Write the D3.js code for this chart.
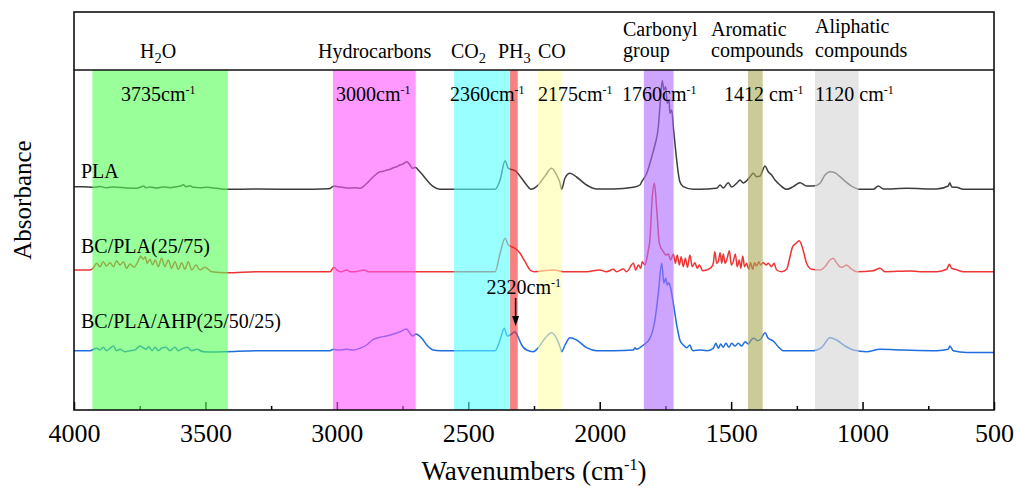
<!DOCTYPE html>
<html>
<head>
<meta charset="utf-8">
<script src="https://cdn.jsdelivr.net/npm/d3@7"></script>
<style>
  body { margin: 0; background: #fff; }
  svg { display: block; }
  text { font-family: "Liberation Serif", "Times New Roman", serif; fill: #000; }
</style>
</head>
<body>
<svg id="chart" width="1017" height="497"></svg>
<script>
// ---- data ---------------------------------------------------------------
const seriesNames = ["PLA", "BC/PLA(25/75)", "BC/PLA/AHP(25/50/25)"];
const seriesOffsets = [2.207, 1.383, 0.593];   // vertical stacking of the spectra

// [wavenumber (cm-1), absorbance above the spectrum's own baseline]
const plaSpectrum = [
  [4000,0.026],[3965,0.026],[3927,0.02],[3901,0.028],[3876,0.016],[3850,0.023],[3800,0.013],[3762,0.01],
  [3743,0.026],[3736,0.033],[3726,0.016],[3711,0.023],[3686,0.013],[3660,0.023],[3635,0.016],[3610,0.026],
  [3594,0.033],[3584,0.046],[3574,0.026],[3559,0.036],[3546,0.02],[3521,0.016],[3495,0.02],[3457,0.01],
  [3419,0],[3300,0.002],[3150,0],[3030,0.005],[3010,0.033],[2995,0.025],[2980,0.02],[2962,0.013],[2930,0.015],
  [2912,0.01],[2886,0.06],[2861,0.126],[2836,0.176],[2823,0.18],[2810,0.193],[2797,0.2],[2785,0.216],
  [2772,0.225],[2760,0.243],[2747,0.255],[2734,0.276],[2722,0.243],[2712,0.21],[2703,0.22],[2684,0.176],
  [2658,0.093],[2633,0.026],[2608,0],[2398,0],[2379,0.093],[2360,0.286],[2348,0.21],[2339,0.2],[2322,0.186],
  [2297,0.11],[2278,0.043],[2262,0],[2234,0.043],[2208,0.133],[2183,0.21],[2164,0.143],[2151,0.063],[2145,0],
  [2132,0.113],[2113,0.16],[2088,0.123],[2050,0.043],[2012,0.003],[1948,0.003],[1872,0.02],[1847,0.043],
  [1840,0.076],[1821,0.16],[1802,0.326],[1790,0.443],[1777,0.626],[1771,0.826],[1762,1.086],[1756,0.993],
  [1749,1.026],[1743,0.86],[1736,0.893],[1733,0.76],[1726,0.793],[1720,0.626],[1710,0.36],[1701,0.16],
  [1695,0.076],[1682,0.026],[1644,0],[1593,0.003],[1555,0.01],[1542,0.043],[1530,0.013],[1511,0.066],
  [1498,0.023],[1479,0.06],[1466,0.093],[1454,0.063],[1441,0.086],[1428,0.126],[1416,0.16],[1403,0.126],
  [1390,0.133],[1371,0.233],[1359,0.176],[1346,0.143],[1333,0.093],[1314,0.043],[1289,0],[1264,0.026],
  [1238,0.066],[1213,0.033],[1187,0.033],[1162,0.06],[1143,0.143],[1124,0.176],[1105,0.166],[1086,0.126],
  [1048,0.043],[1010,0],[959,0],[940,0.033],[921,0.003],[832,0.01],[718,0.003],[674,0.033],[668,0.066],
  [661,0.023],[642,0.02],[617,0],[500,0]
];

const bcPlaSpectrum = [
  [4000,0.017],[3939,0.017],[3927,0.034],[3914,0.084],[3901,0.05],[3889,0.1],[3876,0.057],[3863,0.09],
  [3850,0.05],[3838,0.11],[3825,0.067],[3812,0.1],[3800,0.034],[3787,0.077],[3772,0.044],[3755,0.11],
  [3746,0.157],[3736,0.124],[3729,0.15],[3721,0.084],[3711,0.124],[3701,0.067],[3691,0.117],[3679,0.05],
  [3667,0.134],[3654,0.05],[3641,0.117],[3629,0.034],[3616,0.1],[3603,0.024],[3590,0.09],[3578,0.024],
  [3565,0.1],[3552,0.017],[3536,0.067],[3521,0.017],[3502,0.044],[3476,0],[3419,-0.01],[3300,0],[3026,0],
  [3011,0.044],[2998,0.014],[2982,0],[2963,0.017],[2948,0],[2931,0],[2897,0.017],[2880,0],[2398,0],
  [2379,0.184],[2360,0.334],[2348,0.267],[2335,0.25],[2322,0.234],[2303,0.184],[2284,0.1],[2262,0.01],
  [2250,0],[2177,0.017],[2138,0],[2050,0],[2000,0.017],[1974,0],[1948,0.024],[1936,0],[1910,0.027],[1898,0],
  [1872,0.084],[1863,0.017],[1853,0.067],[1844,0.034],[1838,0.1],[1828,0.067],[1815,0.217],[1809,0.317],
  [1800,0.75],[1792,0.884],[1783,0.617],[1773,0.284],[1758,0.2],[1748,0.167],[1739,0.177],[1730,0.117],
  [1720,0.177],[1712,0.084],[1705,0.167],[1697,0.067],[1690,0.15],[1682,0.05],[1674,0.134],[1666,0.044],
  [1657,0.167],[1648,0.05],[1638,0.09],[1629,0.034],[1621,0.067],[1608,0.01],[1593,0.017],[1574,0.05],
  [1568,0.084],[1562,0.2],[1555,0.084],[1549,0.1],[1542,0.19],[1536,0.084],[1530,0.177],[1523,0.084],
  [1515,0.134],[1507,0.21],[1499,0.067],[1492,0.1],[1484,0.177],[1477,0.05],[1469,0.117],[1463,0.034],
  [1456,0.157],[1449,0.05],[1441,0.084],[1433,0.024],[1426,0.09],[1418,0.024],[1411,0.09],[1403,0.057],
  [1395,0.1],[1388,0.067],[1378,0.09],[1367,0.067],[1359,0.084],[1346,0.05],[1337,0.084],[1327,0.017],
  [1308,0],[1289,0.024],[1276,0.15],[1266,0.25],[1253,0.284],[1241,0.31],[1232,0.267],[1223,0.184],
  [1213,0.084],[1194,0.024],[1162,0.017],[1143,0.05],[1124,0.117],[1111,0.134],[1099,0.09],[1083,0.044],
  [1073,0.05],[1061,0.067],[1046,0.034],[1023,0],[959,0.01],[934,0.034],[915,0],[820,0.007],[782,0],
  [718,0],[680,0.024],[670,0.074],[661,0.034],[648,0.024],[617,0],[500,0]
];

const bcPlaAhpSpectrum = [
  [4000,0],[3939,0],[3914,0.024],[3901,0.007],[3889,0.034],[3876,0],[3863,0.024],[3850,0.047],[3838,0],
  [3825,0.014],[3806,-0.01],[3787,0],[3768,0.007],[3749,0.047],[3739,0.034],[3726,0.014],[3716,0.04],
  [3703,0],[3692,0.034],[3679,0],[3667,0.024],[3650,0.034],[3635,0],[3616,0.034],[3603,0],[3584,0.024],
  [3569,0.034],[3552,0],[3533,0.014],[3508,-0.01],[3470,-0.014],[3419,-0.01],[3292,0],[3026,0],[3013,0.014],
  [2995,0.007],[2963,0.014],[2937,0.007],[2912,0.024],[2887,0.057],[2861,0.114],[2836,0.134],[2811,0.147],
  [2785,0.167],[2760,0.19],[2735,0.217],[2722,0.174],[2712,0.147],[2699,0.167],[2677,0.124],[2658,0.057],
  [2633,0.007],[2608,0],[2398,0],[2379,0.107],[2363,0.224],[2352,0.147],[2341,0.157],[2322,0.19],
  [2314,0.157],[2297,0.057],[2278,0.007],[2253,-0.01],[2234,0.03],[2208,0.124],[2183,0.18],[2164,0.124],
  [2151,0.04],[2145,-0.01],[2132,0.057],[2113,0.13],[2088,0.107],[2050,0.03],[2012,0],[1948,0],[1872,0.007],
  [1866,0.03],[1860,0.014],[1834,0.057],[1809,0.124],[1790,0.307],[1777,0.574],[1764,0.874],[1756,0.674],
  [1749,0.724],[1743,0.657],[1737,0.68],[1730,0.624],[1720,0.474],[1707,0.257],[1695,0.107],[1682,0.057],
  [1669,0.03],[1657,0.057],[1650,0.014],[1644,0],[1619,0.007],[1593,0],[1568,0.024],[1558,0.074],
  [1549,0.024],[1540,0.067],[1530,0.034],[1520,0.074],[1508,0.034],[1498,0.074],[1485,0.047],[1473,0.074],
  [1460,0.047],[1447,0.09],[1435,0.067],[1422,0.114],[1413,0.124],[1400,0.1],[1388,0.114],[1371,0.18],
  [1359,0.124],[1346,0.107],[1337,0.09],[1321,0.04],[1302,0],[1187,0],[1156,0.03],[1124,0.13],[1099,0.107],
  [1067,0.047],[1035,0.007],[985,-0.01],[934,0.014],[845,0.007],[718,0],[674,0.014],[668,0.047],[655,0],
  [604,-0.017],[500,-0.017]
];

const xMajorTicks = [4000, 3500, 3000, 2500, 2000, 1500, 1000, 500];
const xMinorTicks = [3750, 3250, 2750, 2250, 1750, 1250, 750];

// highlighted absorption regions: [from, to] in cm-1
const bandRanges = [[3930,3415],[3015,2700],[2554,2341],[2341,2312],[2235,2145],[1832,1719],[1436,1380],[1181,1015]];
const bandNotes  = ["3735cm^{-1}","3000cm^{-1}","2360cm^{-1}",null,"2175cm^{-1}","1760cm^{-1}","1412 cm^{-1}","1120 cm^{-1}"];
const groupLabels = [["H_{2}O"],["Hydrocarbons"],["CO_{2}"],["PH_{3}"],["CO"],["Carbonyl","group"],["Aromatic","compounds"],["Aliphatic","compounds"]];
const markedPeak = 2320;

// ---- layout & style ----------------------------------------------------
const plot = { left: 74, right: 994, top: 12, header: 70, bottom: 410 };
const seriesColors = ["#3d3d3d", "#ee3434", "#1f6edf"];
// band fills are translucent so the spectra show through them
const bandFill = ["rgb(85,255,85)","rgb(255,85,255)","rgb(85,255,255)","rgb(245,43,43)",
                  "rgb(255,255,170)","rgb(172,105,255)","rgb(168,168,85)","rgb(212,212,212)"];
const bandOpacity = 0.6;
const serif = '"Liberation Serif", "Times New Roman", serif';
const groupLabelPos = [[140,[58]],[318,[58]],[451,[58]],[498,[58]],[538,[58]],[623,[36,57]],[711,[36,57]],[815,[33,57]]];
const bandNoteX = [121,336,450,null,538,622,724,815];
const bandNoteY = 101;
const seriesLabelPos = [[81,178],[81,253],[81,328]];

const svg = d3.select("#chart");

const x = d3.scaleLinear().domain([4000, 500]).range([plot.left, plot.right]);
const y = d3.scaleLinear().domain([0, 3.4]).range([plot.bottom, plot.header]);

// text with ^{..} superscripts and _{..} subscripts
function richText(g, px, py, str, size, anchor) {
  const t = g.append("text").attr("x", px).attr("y", py)
    .attr("font-size", size).attr("text-anchor", anchor || "start");
  const re = /([_^])\{([^}]*)\}/g;
  let last = 0, m, reset = 0;
  while ((m = re.exec(str))) {
    if (m.index > last) {
      t.append("tspan").attr("dy", reset).text(str.slice(last, m.index));
      reset = 0;
    }
    const sup = m[1] === "^";
    const shift = sup ? -size * 0.36 : size * 0.26;
    t.append("tspan").attr("font-size", size * (sup ? 0.6 : 0.72))
      .attr("dy", reset + shift).text(m[2]);
    reset = -shift;
    last = re.lastIndex;
  }
  if (last < str.length) t.append("tspan").attr("dy", reset).text(str.slice(last));
  return t;
}

// ---- spectra -----------------------------------------------------------
const spectra = [plaSpectrum, bcPlaSpectrum, bcPlaAhpSpectrum];
const line = d3.line().curve(d3.curveMonotoneX);
const curves = svg.append("g");
spectra.forEach((s, i) => {
  curves.append("path")
    .attr("d", line(s.map(d => [x(d[0]), y(d[1] + seriesOffsets[i])])))
    .attr("fill", "none")
    .attr("stroke", seriesColors[i])
    .attr("stroke-width", 1.5)
    .attr("stroke-linejoin", "round");
});

// ---- axis ticks (inward) ------------------------------------------------
const axisG = svg.append("g").attr("transform", `translate(0,${plot.bottom})`)
  .attr("font-family", serif).attr("font-size", 26).attr("color", "#000");
axisG.append("g").call(d3.axisBottom(x).tickValues(xMinorTicks).tickSize(-4).tickFormat(""))
  .call(g => g.select(".domain").remove())
  .selectAll("line").attr("stroke-width", 1.5);
axisG.append("g").call(d3.axisBottom(x).tickValues(xMajorTicks).tickSize(-8).tickPadding(13.5).tickFormat(d3.format("d")))
  .call(g => g.select(".domain").remove())
  .call(g => g.selectAll("text").attr("font-size", 26).attr("font-family", serif))
  .selectAll("line").attr("stroke-width", 1.5);

// ---- bands ---------------------------------------------------------------
svg.append("g").selectAll("rect").data(bandRanges).join("rect")
  .attr("x", d => x(d[0]))
  .attr("width", d => x(d[1]) - x(d[0]))
  .attr("y", plot.header)
  .attr("height", plot.bottom - plot.header)
  .attr("fill", (d, i) => bandFill[i])
  .attr("fill-opacity", bandOpacity);

// ---- frame -----------------------------------------------------------------
const frame = svg.append("g").attr("stroke", "#111").attr("stroke-width", 1.6).attr("fill", "none");
frame.append("rect").attr("x", plot.left).attr("y", plot.top)
  .attr("width", plot.right - plot.left).attr("height", plot.bottom - plot.top);
frame.append("line").attr("x1", plot.left).attr("x2", plot.right)
  .attr("y1", plot.header).attr("y2", plot.header);

// ---- labels ----------------------------------------------------------------
const labels = svg.append("g");
groupLabels.forEach((lines, i) => {
  const [lx, ys] = groupLabelPos[i];
  lines.forEach((txt, j) => richText(labels, lx, ys[j], txt, 20));
});
bandNotes.forEach((txt, i) => {
  if (txt) richText(labels, bandNoteX[i], bandNoteY, txt, 20);
});
seriesNames.forEach((n, i) => {
  labels.append("text").attr("x", seriesLabelPos[i][0]).attr("y", seriesLabelPos[i][1])
    .attr("font-size", 20).text(n);
});

// marked PH3 shoulder on the AHP spectrum
const px = x(markedPeak);
richText(labels, px - 29, 294, markedPeak + "cm^{-1}", 20);
labels.append("line").attr("x1", px).attr("x2", px).attr("y1", 298).attr("y2", 318)
  .attr("stroke", "#000").attr("stroke-width", 1.5);
labels.append("path")
  .attr("d", `M${px - 3.5},${316} L${px + 3.5},${316} L${px},${326} Z`)
  .attr("fill", "#000");

// axis titles
richText(labels, (plot.left + plot.right) / 2, 480, "Wavenumbers (cm^{-1})", 27, "middle");
labels.append("text").attr("transform", "translate(31,200) rotate(-90)")
  .attr("text-anchor", "middle").attr("font-size", 25).text("Absorbance");
</script>
</body>
</html>
